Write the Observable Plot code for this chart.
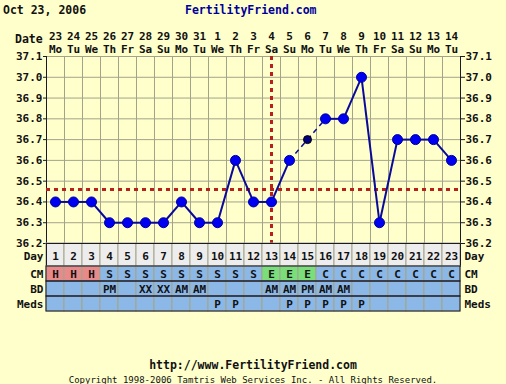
<!DOCTYPE html>
<html><head><meta charset="utf-8">
<script src="https://cdn.jsdelivr.net/npm/d3@7"></script>
<script src="https://cdn.jsdelivr.net/npm/@observablehq/plot@0.6"></script>
<style>
html,body{margin:0;padding:0;background:#ffffcc;}
#wrap{position:relative;width:506px;height:384px;overflow:hidden;font-family:"DejaVu Sans Mono",monospace;font-weight:bold;color:#111;}
.abs{position:absolute;white-space:pre;line-height:12px;font-size:11.5px;}
#wrap svg{position:absolute;left:0;}
</style></head><body><div id="wrap"></div>
<script>
// ---- data ----
const days = [1,2,3,4,5,6,7,8,9,10,11,12,13,14,15,16,17,18,19,20,21,22,23];
const dateLabels = ["23","24","25","26","27","28","29","30","31","1","2","3","4","5","6","7","8","9","10","11","12","13","14"];
const weekdays = ["Mo","Tu","We","Th","Fr","Sa","Su","Mo","Tu","We","Th","Fr","Sa","Su","Mo","Tu","We","Th","Fr","Sa","Su","Mo","Tu"];
const temps = [36.4,36.4,36.4,36.3,36.3,36.3,36.3,36.4,36.3,36.3,36.6,36.4,36.4,36.6,36.7,36.8,36.8,37.0,36.3,36.7,36.7,36.7,36.6];
const discardedDays = [15];
const coverline = 36.46;
const ovulationDay = 13;
const yTicks = [36.2,36.3,36.4,36.5,36.6,36.7,36.8,36.9,37.0,37.1];
const tableRows = ["CM","BD","Meds"];
const cm   = ["H","H","H","S","S","S","S","S","S","S","S","S","E","E","E","C","C","C","C","C","C","C","C"];
const bd   = ["","","","PM","","XX","XX","AM","AM","","","","AM","AM","PM","AM","AM","","","","","",""];
const meds = ["","","","","","","","","","P","P","","","P","P","P","P","P","","","","",""];
const cmColors = {H:"#e88a8a", S:"#8cb8e8", E:"#7ade7a", C:"#8cb8e8"};
const cellBlue = "#8cb8e8";

// ---- style ----
const FONT = '"DejaVu Sans Mono", monospace';
const gridColor = "#a3a38a";
const darkLine = "#1a1a2a";
const red = "#b8201c";
const baseStyle = {background:"transparent", fontFamily:FONT, fontSize:"11px", fontWeight:"bold", color:"#111", overflow:"visible"};

const wrap = document.getElementById("wrap");
function addText(txt, css){ const d=document.createElement("div"); d.className="abs"; d.textContent=txt; Object.assign(d.style, css); wrap.appendChild(d); }

const points = days.map((d,i)=>({day:d, temp:temps[i], discarded: discardedDays.includes(d)}));
const pairs = points.slice(1).map((p,i)=>({a:points[i], b:p, dashed: points[i].discarded || p.discarded}));
const edges = [days[0]-0.5, ...days.map(d=>d+0.5)];

const main = Plot.plot({
  width:506, height:244, marginLeft:46, marginRight:46, marginTop:56, marginBottom:1,
  style: baseStyle,
  x:{domain:[days[0]-0.5, days[days.length-1]+0.5], axis:null},
  y:{domain:[yTicks[0], yTicks[yTicks.length-1]]},
  marks:[
    Plot.ruleY(yTicks, {stroke:gridColor}),
    Plot.ruleX(edges, {stroke:gridColor}),
    Plot.ruleY([yTicks[0]], {stroke:darkLine}),
    Plot.ruleX([edges[0], edges[edges.length-1]], {stroke:darkLine}),
    Plot.ruleY([coverline], {stroke:red, strokeWidth:3, strokeDasharray:"4,4"}),
    Plot.ruleX([ovulationDay], {stroke:red, strokeWidth:3, strokeDasharray:"4,4"}),
    Plot.link(pairs.filter(p=>!p.dashed), {x1:p=>p.a.day, y1:p=>p.a.temp, x2:p=>p.b.day, y2:p=>p.b.temp, stroke:"#0a0a9a", strokeWidth:2}),
    Plot.link(pairs.filter(p=>p.dashed), {x1:p=>p.a.day, y1:p=>p.a.temp, x2:p=>p.b.day, y2:p=>p.b.temp, stroke:"#0a0a9a", strokeWidth:1.5, strokeDasharray:"5,4"}),
    Plot.dot(points.filter(p=>!p.discarded), {x:"day", y:"temp", r:5, fill:"#0000f0", stroke:"#0000a0", strokeWidth:1}),
    Plot.dot(points.filter(p=>p.discarded), {x:"day", y:"temp", r:4, fill:"#000080", stroke:"#000", strokeWidth:1}),
    Plot.text(days, {x:d=>d, text:d=>dateLabels[d-1], frameAnchor:"top", dy:-24, fill:"#111"}),
    Plot.text(days, {x:d=>d, text:d=>weekdays[d-1], frameAnchor:"top", dy:-11, fill:"#111"}),
    Plot.axisY({anchor:"left", ticks:yTicks, tickSize:3, tickPadding:1, label:null, tickFormat:d=>d.toFixed(1), stroke:darkLine, fill:"#111"}),
    Plot.axisY({anchor:"right", ticks:yTicks, tickSize:4, tickPadding:1, label:null, tickFormat:d=>d.toFixed(1), stroke:darkLine, fill:"#111"})
  ]
});
main.style.top = "0px";
wrap.appendChild(main);

const dayRow = Plot.plot({
  width:506, height:24, marginLeft:46, marginRight:46, marginTop:0, marginBottom:1,
  style: baseStyle,
  x:{type:"band", domain:days, padding:0, axis:null},
  marks:[
    Plot.cell(days, {x:d=>d, fill:"#ededed", stroke:gridColor}),
    Plot.text(days, {x:d=>d, text:d=>String(d), dy:1, fill:"#111"}),
    Plot.text(["Day"], {frameAnchor:"left", textAnchor:"end", dx:-3, dy:1.5, fill:"#111"}),
    Plot.text(["Day"], {frameAnchor:"right", textAnchor:"start", dx:4, dy:1.5, fill:"#111"}),
    Plot.frame({stroke:darkLine})
  ]
});
dayRow.style.top = "243px";
wrap.appendChild(dayRow);

const cells = days.flatMap((d,i)=>[
  {day:d, row:"CM", v:cm[i], fill:cmColors[cm[i]]},
  {day:d, row:"BD", v:bd[i], fill:cellBlue},
  {day:d, row:"Meds", v:meds[i], fill:cellBlue}
]);
const table = Plot.plot({
  width:506, height:46, marginLeft:46, marginRight:46, marginTop:0, marginBottom:1,
  style: baseStyle,
  x:{type:"band", domain:days, padding:0, axis:null},
  y:{type:"band", domain:tableRows, padding:0, axis:null},
  color:{type:"identity"},
  marks:[
    Plot.cell(cells, {x:"day", y:"row", fill:"fill", stroke:gridColor}),
    Plot.cell(tableRows, {y:d=>d, fill:"none", stroke:darkLine}),
    Plot.text(cells.filter(c=>c.v), {x:"day", y:"row", text:"v", fill:"#111", fontSize:11}),
    Plot.text(tableRows, {y:d=>d, text:d=>d, frameAnchor:"left", textAnchor:"end", dx:-3, fill:"#111"}),
    Plot.text(tableRows, {y:d=>d, text:d=>d, frameAnchor:"right", textAnchor:"start", dx:4, fill:"#111"})
  ]
});
table.style.top = "266px";
wrap.appendChild(table);

addText("Oct 23, 2006", {left:"3px", top:"4px"});
addText("FertilityFriend.com", {left:"185px", top:"4px", color:"#000099"});
addText("Date", {left:"15px", top:"33px"});
addText("http://www.FertilityFriend.com", {left:"0px", width:"506px", textAlign:"center", top:"359px"});
addText("Copyright 1998-2006 Tamtris Web Services Inc. - All Rights Reserved.", {left:"0px", width:"506px", textAlign:"center", top:"375px", fontSize:"9px", fontWeight:"normal", lineHeight:"10px"});
</script></body></html>
